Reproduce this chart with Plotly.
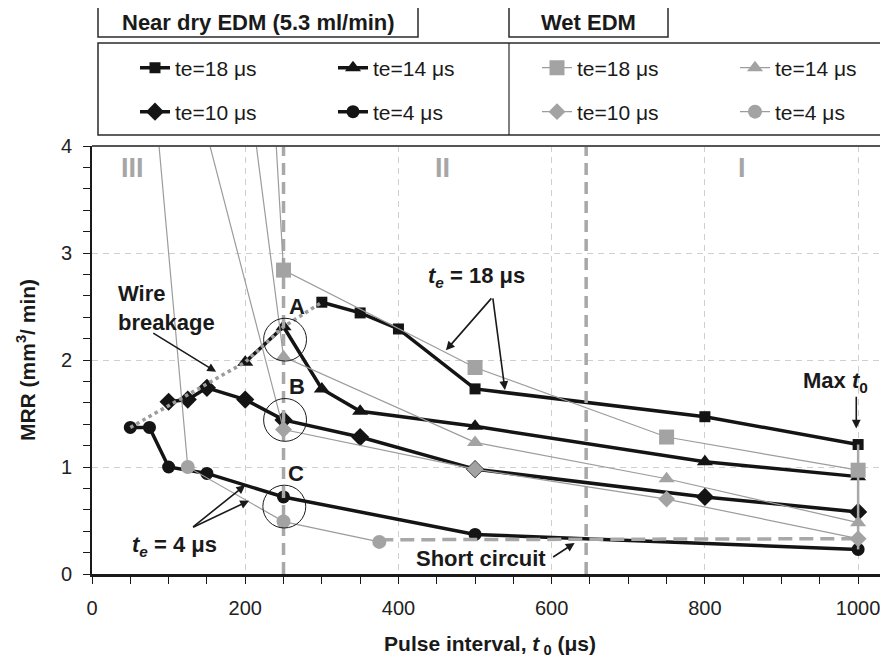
import plotly.graph_objects as go

# ---------------- data ----------------
# Near dry EDM (5.3 ml/min)
nd18_x = [300, 350, 400, 500, 800, 1000]
nd18_y = [2.54, 2.44, 2.29, 1.73, 1.47, 1.21]
nd14_x = [200, 250, 300, 350, 500, 800, 1000]
nd14_y = [1.98, 2.31, 1.73, 1.52, 1.38, 1.05, 0.91]
nd10_x = [100, 125, 150, 200, 250, 350, 500, 800, 1000]
nd10_y = [1.61, 1.63, 1.74, 1.63, 1.44, 1.28, 0.98, 0.72, 0.58]
nd4_x = [50, 75, 100, 150, 250, 500, 1000]
nd4_y = [1.37, 1.37, 1.00, 0.94, 0.72, 0.37, 0.23]

# Wet EDM (first points lie above the visible range)
wet18_x = [125, 250, 500, 750, 1000]
wet18_y = [18.1, 2.84, 1.93, 1.28, 0.97]
wet14_x = [125, 250, 500, 750, 1000]
wet14_y = [8.97, 2.03, 1.23, 0.89, 0.48]
wet10_x = [125, 250, 500, 750, 1000]
wet10_y = [4.80, 1.35, 0.98, 0.70, 0.33]
wet4_x = [62.5, 125, 250, 375]
wet4_y = [6.0, 1.00, 0.49, 0.30]

# short circuit limit (wet EDM, te = 4 us)
sc_x = [375, 1000]
sc_y = [0.32, 0.33]
# wire breakage limit (near dry)
wb_x = [50, 200, 250, 300]
wb_y = [1.37, 1.98, 2.31, 2.54]
# region boundaries
bound_x = [250, 645]
# max t0 marker line
max_x = [1000, 1000]
max_y = [1.21, 0.23]
# circled points A, B, C
circ_lbl = ["A", "B", "C"]
circ_x = [252, 252, 251]
circ_y = [2.19, 1.44, 0.63]

x_ticks = [0, 200, 400, 600, 800, 1000]
y_ticks = [0, 1, 2, 3, 4]

FONT = "Liberation Sans, Arial, sans-serif"
BLACK = "#141414"
GRAY = "#9c9c9c"

# page body has an 8px margin: compensate so that the picture lines up
OFF = 8
W, H = 880, 650
ML, MT = 92 - OFF, 146 - OFF
PLOT_BOTTOM = 574 - OFF
MR, MB = 0, H - PLOT_BOTTOM
PW, PH = W - ML - MR, PLOT_BOTTOM - MT
XMAX = 1039


def px(xp):  # reference pixel -> paper x
    return (xp - OFF - ML) / PW


def py(yp):  # reference pixel -> paper y
    return (PLOT_BOTTOM - (yp - OFF)) / PH


fig = go.Figure()

# near-dry series
nd = [
    (nd18_x, nd18_y, "square", 11, "te=18 μs", "legend"),
    (nd14_x, nd14_y, "triangle-up", 14, "te=14 μs", "legend"),
    (nd10_x, nd10_y, "diamond", 14, "te=10 μs", "legend2"),
    (nd4_x, nd4_y, "circle", 13, "te=4 μs", "legend2"),
]
for xs, ys, sym, sz, name, lg in nd:
    fig.add_trace(go.Scatter(
        x=xs, y=ys, mode="lines+markers", name=name, legend=lg,
        line=dict(color=BLACK, width=3.5),
        marker=dict(symbol=sym, size=sz, color=BLACK),
    ))

# wire breakage dotted line
fig.add_trace(go.Scatter(x=wb_x, y=wb_y, mode="lines", showlegend=False,
                         line=dict(color=GRAY, width=3.5, dash="dot")))

# region boundaries
for bx in bound_x:
    fig.add_trace(go.Scatter(x=[bx, bx], y=[0, 4], mode="lines", showlegend=False,
                             line=dict(color="#a8a8a8", width=3.5, dash="12px,7px")))

# gray line at max t0
fig.add_trace(go.Scatter(x=max_x, y=max_y, mode="lines", showlegend=False,
                         line=dict(color="#a8a8a8", width=2.5)))

# short circuit dashed line
fig.add_trace(go.Scatter(x=sc_x, y=sc_y, mode="lines", showlegend=False,
                         line=dict(color="#a8a8a8", width=3.5, dash="14px,7px")))

# wet series
wet = [
    (wet18_x, wet18_y, "square", 15, "te=18 μs", "legend3"),
    (wet14_x, wet14_y, "triangle-up", 14, "te=14 μs", "legend3"),
    (wet10_x, wet10_y, "diamond", 13, "te=10 μs", "legend4"),
    (wet4_x, wet4_y, "circle", 14, "te=4 μs", "legend4"),
]
for xs, ys, sym, sz, name, lg in wet:
    fig.add_trace(go.Scatter(
        x=xs, y=ys, mode="lines+markers", name=name, legend=lg,
        line=dict(color=GRAY, width=1.2),
        marker=dict(symbol=sym, size=sz, color="#a3a3a3"),
    ))

# ---------------- annotations ----------------
ann = []
af = dict(family=FONT, size=22, color="#1a1a1a")


def arrow(tx, ty, hx, hy):
    ann.append(dict(x=hx, y=hy, ax=tx, ay=ty, xref="x", yref="y", axref="x", ayref="y",
                    text="", showarrow=True, arrowhead=2, arrowsize=1.1, arrowwidth=1.6,
                    arrowcolor="#1a1a1a", standoff=0, startstandoff=0))


ann.append(dict(x=31, y=2.49, xref="x", yref="y", xanchor="left", yanchor="middle",
                align="left", showarrow=False, text="<b>Wire<br>breakage</b>", font=af))
arrow(78, 2.26, 162, 1.89)

for lbl, cx, cy in zip(circ_lbl, circ_x, circ_y):
    ann.append(dict(x=cx + 15, y=cy + 0.31, xref="x", yref="y", showarrow=False,
                    xanchor="center", yanchor="middle",
                    text="<b>%s</b>" % lbl, font=dict(family=FONT, size=22, color="#1a1a1a")))

ann.append(dict(x=502, y=2.78, xref="x", yref="y", showarrow=False,
                xanchor="center", yanchor="middle",
                text="<b><i>t</i><sub><i>e</i></sub> = 18 μs</b>", font=af))
arrow(523, 2.59, 462, 2.09)
arrow(523, 2.59, 539, 1.72)

ann.append(dict(x=108, y=0.26, xref="x", yref="y", showarrow=False,
                xanchor="center", yanchor="middle",
                text="<b><i>t</i><sub><i>e</i></sub> = 4 μs</b>", font=af))
arrow(130, 0.43, 200, 0.83)
arrow(130, 0.43, 205, 0.685)

ann.append(dict(x=508, y=0.145, xref="x", yref="y", showarrow=False,
                xanchor="center", yanchor="middle",
                text="<b>Short circuit</b>", font=af))
arrow(600, 0.15, 630, 0.29)

ann.append(dict(x=971, y=1.79, xref="x", yref="y", showarrow=False,
                xanchor="center", yanchor="middle",
                text="<b>Max <i>t</i><sub>0</sub></b>", font=af))
arrow(997.6, 1.67, 997.6, 1.36)

for txt, rx in [("III", 53), ("II", 458), ("I", 849)]:
    ann.append(dict(x=rx, y=3.79, xref="x", yref="y", showarrow=False,
                    xanchor="center", yanchor="middle",
                    text="<b>%s</b>" % txt, font=dict(family=FONT, size=27, color="#a6a6a6")))

# legend headers
ann.append(dict(x=px(258), y=py(22), xref="paper", yref="paper", showarrow=False,
                xanchor="center", yanchor="middle",
                text="<b>Near dry EDM (5.3 ml/min)</b>", font=dict(af, size=22)))
ann.append(dict(x=px(588), y=py(22), xref="paper", yref="paper", showarrow=False,
                xanchor="center", yanchor="middle",
                text="<b>Wet EDM</b>", font=dict(af, size=22)))

# ---------------- shapes ----------------
shapes = []
for cx, cy in zip(circ_x, circ_y):
    shapes.append(dict(type="circle", xref="x", yref="y", x0=cx - 28, x1=cx + 28,
                       y0=cy - 0.2, y1=cy + 0.2, line=dict(color="#1a1a1a", width=1)))
box_line = dict(color="#2a2a2a", width=1.5)
shapes.append(dict(type="rect", xref="paper", yref="paper", x0=px(98), x1=px(418),
                   y0=py(37), y1=py(7), line=box_line))
shapes.append(dict(type="rect", xref="paper", yref="paper", x0=px(509), x1=px(668),
                   y0=py(37), y1=py(7), line=box_line))
shapes.append(dict(type="rect", xref="paper", yref="paper", x0=px(98), x1=px(892),
                   y0=py(135), y1=py(43), line=box_line))
shapes.append(dict(type="line", xref="paper", yref="paper", x0=px(509), x1=px(509),
                   y0=py(135), y1=py(43), line=dict(color="#2a2a2a", width=1.2)))
# top frame of plot area
shapes.append(dict(type="line", xref="paper", yref="paper", x0=0, x1=1, y0=1, y1=1,
                   line=dict(color="#555555", width=2)))

leg_common = dict(orientation="h", xref="container", yref="container", xanchor="left",
                  yanchor="middle", entrywidth=153, entrywidthmode="pixels",
                  bgcolor="rgba(0,0,0,0)", borderwidth=0, itemwidth=30,
                  font=dict(family=FONT, size=21, color="#1a1a1a"), tracegroupgap=0)


def lx(xp):
    return (xp - OFF) / W


def ly(yp):
    return 1 - (yp - OFF) / H


fig.update_layout(
    width=W, height=H,
    margin=dict(l=ML, r=MR, t=MT, b=MB, autoexpand=False),
    paper_bgcolor="white", plot_bgcolor="white",
    font=dict(family=FONT, size=20, color="#1a1a1a"),
    showlegend=True,
    legend=dict(leg_common, x=lx(135), y=ly(68)),
    legend2=dict(leg_common, x=lx(135), y=ly(112)),
    legend3=dict(leg_common, x=lx(537), y=ly(68)),
    legend4=dict(leg_common, x=lx(537), y=ly(112)),
    annotations=ann,
    shapes=shapes,
    xaxis=dict(
        range=[0, XMAX], tickmode="array", tickvals=x_ticks,
        ticks="outside", ticklen=7, tickwidth=1.2, tickcolor="#1a1a1a",
        minor=dict(dtick=50, tick0=0, ticks="outside", ticklen=7, tickwidth=1.2,
                   tickcolor="#1a1a1a", showgrid=False),
        showline=True, linecolor="#1a1a1a", linewidth=2.5,
        showgrid=True, gridcolor="#cfcfcf", gridwidth=1, griddash="6px,5px",
        zeroline=False, layer="above traces", automargin=False,
        ticklabelstandoff=7,
        tickfont=dict(family=FONT, size=20, color="#222222"),
        title=dict(text="<b>Pulse interval, <i>t</i><sub> 0</sub> (μs)</b>",
                   font=dict(family=FONT, size=21, color="#1a1a1a"), standoff=22),
    ),
    yaxis=dict(
        range=[0, 4], tickmode="array", tickvals=y_ticks,
        ticks="outside", ticklen=7, tickwidth=1.2, tickcolor="#1a1a1a",
        minor=dict(dtick=0.2, tick0=0, ticks="outside", ticklen=7, tickwidth=1.2,
                   tickcolor="#1a1a1a", showgrid=False),
        showline=True, linecolor="#1a1a1a", linewidth=2,
        showgrid=True, gridcolor="#cfcfcf", gridwidth=1, griddash="6px,5px",
        zeroline=False, automargin=False,
        ticklabelstandoff=7,
        tickfont=dict(family=FONT, size=20, color="#222222"),
        title=dict(text="<b>MRR (mm<sup>3</sup>/ min)</b>",
                   font=dict(family=FONT, size=21, color="#1a1a1a"), standoff=20),
    ),
)

fig.write_html("out.html")
